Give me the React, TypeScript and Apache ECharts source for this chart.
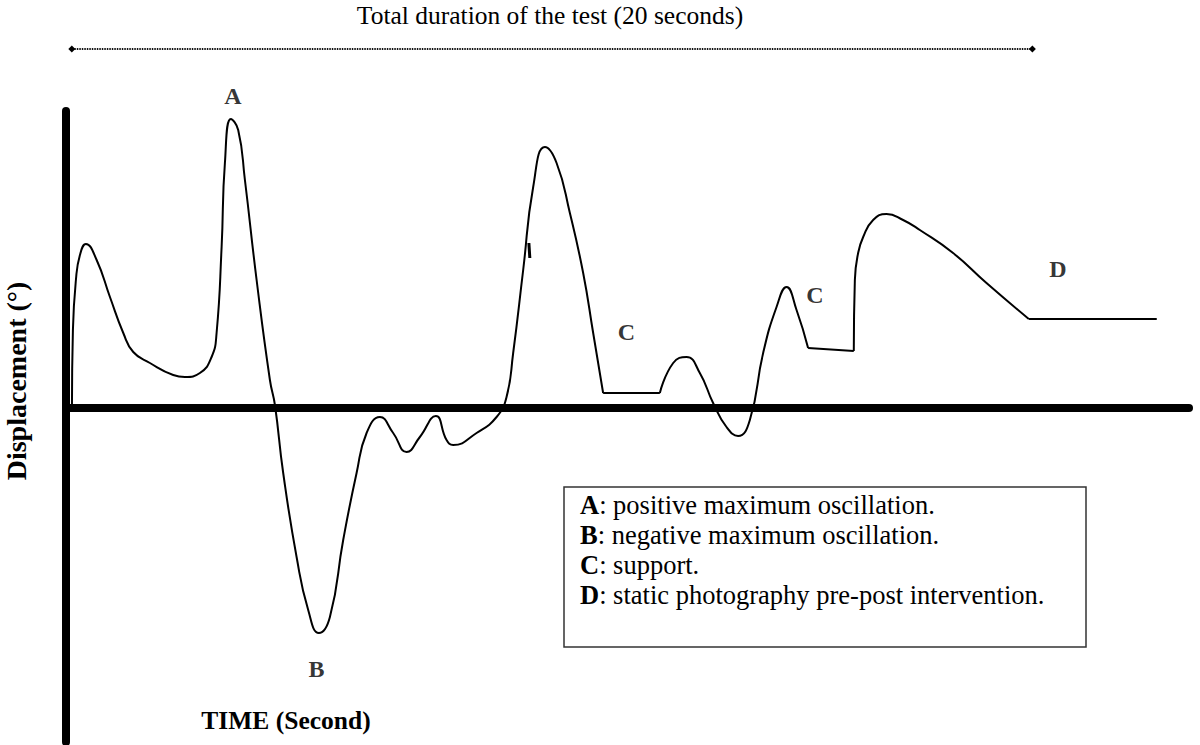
import React, { useEffect, useRef } from "react";
import * as echarts from "echarts";

// Time in seconds, displacement in degrees
const risePhase: number[][] = [
  [0.083, 0], [0.103, 7.8], [0.165, 12.8], [0.248, 15.3], [0.372, 16.4], [0.594, 14.8],
  [0.869, 11.1], [1.145, 7.5], [1.351, 5.6], [1.696, 4.5], [2.178, 3.3], [2.42, 3.1],
  [2.73, 3.5], [2.972, 5.1], [3.075, 7.5], [3.179, 16.1], [3.247, 24.5], [3.371, 28.9],
  [3.522, 27.8], [3.661, 22.8], [3.903, 12.8], [4.178, 2.8], [4.282, 0.3], [4.453, -6.5],
  [4.73, -14.9], [4.97, -20.2], [5.191, -22.5], [5.419, -20.9], [5.694, -13.2], [5.971, -6.5],
  [6.178, -2.5], [6.453, -0.9], [6.728, -2.5], [7.005, -4.4], [7.28, -2.9], [7.611, -0.8],
  [7.832, -3.2], [7.969, -3.7], [8.453, -2.5], [8.867, -0.9], [9.073, 1.1], [9.21, 5.5],
  [9.417, 13.8], [9.624, 22.1], [9.866, 26.1], [10.108, 24.5], [10.383, 19.5],
  [10.658, 13.5], [10.865, 7.5], [11.071, 1.5],
];
const support1: number[][] = [[11.071, 1.5], [12.244, 1.5]];
const midPhase: number[][] = [
  [12.244, 1.5], [12.52, 4.5], [12.796, 5.1], [13.071, 3.5], [13.346, 0.5], [13.623, -1.9],
  [13.863, -2.8], [14.106, -1.2], [14.381, 5.5], [14.658, 10.1], [14.865, 12.1],
  [15.072, 9.8], [15.311, 6.0],
];
const support2: number[][] = [[15.311, 6.0], [16.256, 5.7]];
const lastPhase: number[][] = [
  [16.256, 5.7], [16.278, 12.8], [16.346, 15.5], [16.45, 17.1], [16.656, 18.8],
  [16.933, 19.4], [17.276, 18.8], [17.622, 17.8], [18.31, 15.5], [19.001, 12.5], [19.876, 8.9],
];
const staticPhase: number[][] = [[19.876, 8.9], [22.523, 8.9]];
const penMark: number[][] = [[9.535, 16.5], [9.555, 15.0]];
const durationSpan: number[][] = [[0.08, 35.9], [19.95, 35.9]];

const pointLabels = ["A", "B", "C", "C", "D"];
const labelPositions: number[][] = [[3.413, 31.2], [5.144, -26.1], [11.555, 7.6], [15.45, 11.3], [20.476, 13.9]];

const legendKeys = ["A", "B", "C", "D"];
const legendTexts = [
  "positive maximum oscillation.",
  "negative maximum oscillation.",
  "support.",
  "static photography pre-post intervention.",
];

const titleText = "Total duration of the test (20 seconds)";
const yName = "Displacement (°)";
const xName = "TIME (Second)";

const FONT = "Liberation Serif";

export default function App() {
  const ref = useRef<HTMLDivElement>(null);
  useEffect(() => {
    if (!ref.current) return;
    const chart = echarts.init(ref.current, null, { renderer: "svg" });
    const curve = (data: number[][], smooth: number | boolean) => ({
      type: "line",
      data,
      smooth,
      symbol: "none",
      showSymbol: false,
      clip: false,
      lineStyle: { color: "#000", width: 2 },
      z: 3,
    });
    const txt = (size: number, weight: string, align: string) => ({
      fontFamily: FONT,
      fontSize: size,
      fontWeight: weight,
      fill: "#000",
      align,
      verticalAlign: "middle",
      textAlign: align,
      textVerticalAlign: "middle",
    });
    const option: any = {
      animation: false,
      backgroundColor: "#fff",
      grid: { left: 66, right: 11, top: 111, bottom: 3 },
      xAxis: {
        type: "value",
        min: -0.04,
        max: 23.19,
        axisLine: { onZero: true, lineStyle: { color: "#000", width: 8 } },
        axisTick: { show: false },
        axisLabel: { show: false },
        splitLine: { show: false },
      },
      yAxis: {
        type: "value",
        min: -33.4,
        max: 29.7,
        axisLine: { show: true, onZero: false, lineStyle: { color: "#000", width: 8 } },
        axisTick: { show: false },
        axisLabel: { show: false },
        splitLine: { show: false },
      },
      series: [
        curve(risePhase, 0.5),
        curve(support1, false),
        curve(midPhase, 0.5),
        curve(support2, false),
        curve(lastPhase, 0.5),
        curve(staticPhase, false),
        { ...curve(penMark, false), lineStyle: { color: "#000", width: 3 } },
        {
          type: "line",
          data: durationSpan,
          symbol: "diamond",
          symbolSize: 7,
          showSymbol: true,
          clip: false,
          itemStyle: { color: "#000" },
          lineStyle: { color: "#111", width: 2, type: [1.5, 1] },
        },
        {
          type: "scatter",
          clip: false,
          symbolSize: 0,
          data: labelPositions.map((p, i) => ({ value: p, name: pointLabels[i] })),
          label: {
            show: true,
            position: "inside",
            formatter: (p: any) => p.name,
            fontFamily: FONT,
            fontWeight: "bold",
            fontSize: 24,
            color: "#000",
          },
        },
      ],
      graphic: [
        { type: "text", x: 550, y: 15, style: { text: titleText, ...txt(25.5, "normal", "center") } },
        { type: "text", x: 16, y: 381, rotation: Math.PI / 2, style: { text: yName, ...txt(28, "bold", "center") } },
        { type: "text", x: 286, y: 720, style: { text: xName, ...txt(25.5, "bold", "center") } },
        {
          type: "rect",
          shape: { x: 564, y: 487, width: 522, height: 160 },
          style: { fill: "#fff", stroke: "#333", lineWidth: 1.5 },
          z: 10,
        },
        ...legendKeys.map((k, i) => ({
          type: "text",
          x: 580,
          y: 505 + i * 30,
          z: 11,
          style: {
            text: `{b|${k}}{n|: ${legendTexts[i]}}`,
            ...txt(26.5, "normal", "left"),
            rich: {
              b: { fontFamily: FONT, fontSize: 26.5, fontWeight: "bold", color: "#000", fill: "#000" },
              n: { fontFamily: FONT, fontSize: 26.5, fontWeight: "normal", color: "#000", fill: "#000" },
            },
          },
        })),
      ],
    };
    chart.setOption(option);
    return () => chart.dispose();
  }, []);
  return <div ref={ref} style={{ position: "absolute", left: 0, top: 0, width: 1200, height: 745 }} />;
}
